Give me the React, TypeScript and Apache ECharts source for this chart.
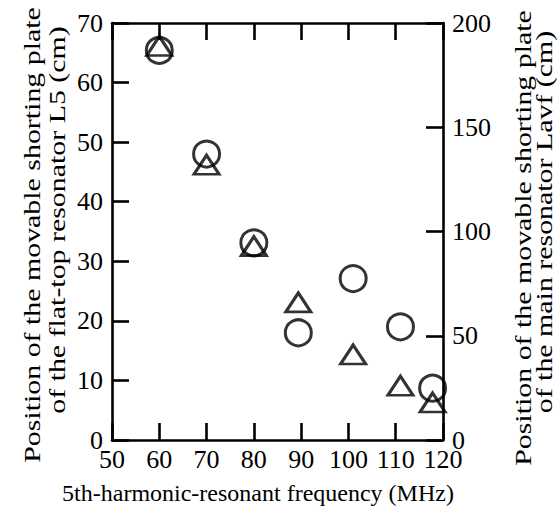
import React, { useEffect, useRef } from "react";
import * as echarts from "echarts";

const frequencies = [60, 70, 80, 89.4, 101, 111, 117.8];
const flatTopL5 = [65.4, 48.0, 33.1, 18.0, 27.1, 19.0, 8.7];
const mainLavf = [189, 132, 93, 66, 41, 26, 18];

const xTitle = "5th-harmonic-resonant frequency (MHz)";
const leftTitle = ["Position of the movable shorting plate", "of the flat-top resonator L5 (cm)"];
const rightTitle = ["Position of the movable shorting plate", "of the main resonator Lavf (cm)"];

const FONT = "Liberation Serif";

export default function App() {
  const ref = useRef<HTMLDivElement>(null);
  useEffect(() => {
    if (!ref.current) return;
    const chart = echarts.init(ref.current, null, { renderer: "svg" });
    const axisLine = { show: true, onZero: false, lineStyle: { color: "#000", width: 2.6 } };
    const tick = (show: boolean) => ({
      show,
      inside: true,
      length: 17,
      lineStyle: { color: "#000", width: 2.6 },
    });
    const label = (show: boolean, margin: number, lineHeight: number) => ({
      show,
      color: "#000",
      fontFamily: FONT,
      fontSize: 26,
      lineHeight,
      margin,
    });
    const vText = (text: string, x: number, y: number) => ({
      type: "text",
      x,
      y,
      rotation: Math.PI / 2,
      scaleX: 1.3,
      scaleY: 1,
      style: {
        text,
        fill: "#000",
        fontFamily: FONT,
        fontSize: 23,
        textAlign: "center",
        textVerticalAlign: "middle",
      },
    });
    chart.setOption({
      animation: false,
      backgroundColor: "#fff",
      grid: { left: 112, right: 116, top: 23, bottom: 75, containLabel: false },
      xAxis: [
        {
          type: "value",
          min: 50,
          max: 120,
          interval: 10,
          position: "bottom",
          axisLine,
          axisTick: tick(true),
          axisLabel: label(true, 9, 20),
          splitLine: { show: false },
        },
        {
          type: "value",
          min: 50,
          max: 120,
          interval: 10,
          position: "top",
          axisLine,
          axisTick: tick(true),
          axisLabel: label(false, 6, 20),
          splitLine: { show: false },
        },
      ],
      yAxis: [
        {
          type: "value",
          min: 0,
          max: 70,
          interval: 10,
          position: "left",
          axisLine,
          axisTick: tick(true),
          axisLabel: label(true, 9, 18),
          splitLine: { show: false },
        },
        {
          type: "value",
          min: 0,
          max: 200,
          interval: 50,
          position: "right",
          axisLine,
          axisTick: tick(true),
          axisLabel: label(true, 9, 18),
          splitLine: { show: false },
        },
      ],
      series: [
        {
          name: "L5",
          type: "scatter",
          xAxisIndex: 0,
          yAxisIndex: 0,
          symbol: "circle",
          symbolSize: 26,
          itemStyle: { color: "rgba(0,0,0,0)", borderColor: "#000", borderWidth: 3 },
          data: frequencies.map((f, i) => [f, flatTopL5[i]]),
        },
        {
          name: "Lavf",
          type: "scatter",
          xAxisIndex: 0,
          yAxisIndex: 1,
          symbol: "triangle",
          symbolSize: [25, 19],
          itemStyle: { color: "rgba(0,0,0,0)", borderColor: "#000", borderWidth: 3 },
          data: frequencies.map((f, i) => [f, mainLavf[i]]),
        },
      ],
      graphic: [
        {
          type: "text",
          x: 258,
          y: 493,
          style: {
            text: xTitle,
            fill: "#000",
            fontFamily: FONT,
            fontSize: 24,
            textAlign: "center",
            textVerticalAlign: "middle",
          },
        },
        vText(leftTitle[0], 32, 235),
        vText(leftTitle[1], 57, 220),
        vText(rightTitle[0], 523, 238),
        vText(rightTitle[1], 544, 222),
      ],
    });
    return () => chart.dispose();
  }, []);
  return <div ref={ref} style={{ width: 559, height: 515, position: "absolute", left: 0, top: 0 }} />;
}
